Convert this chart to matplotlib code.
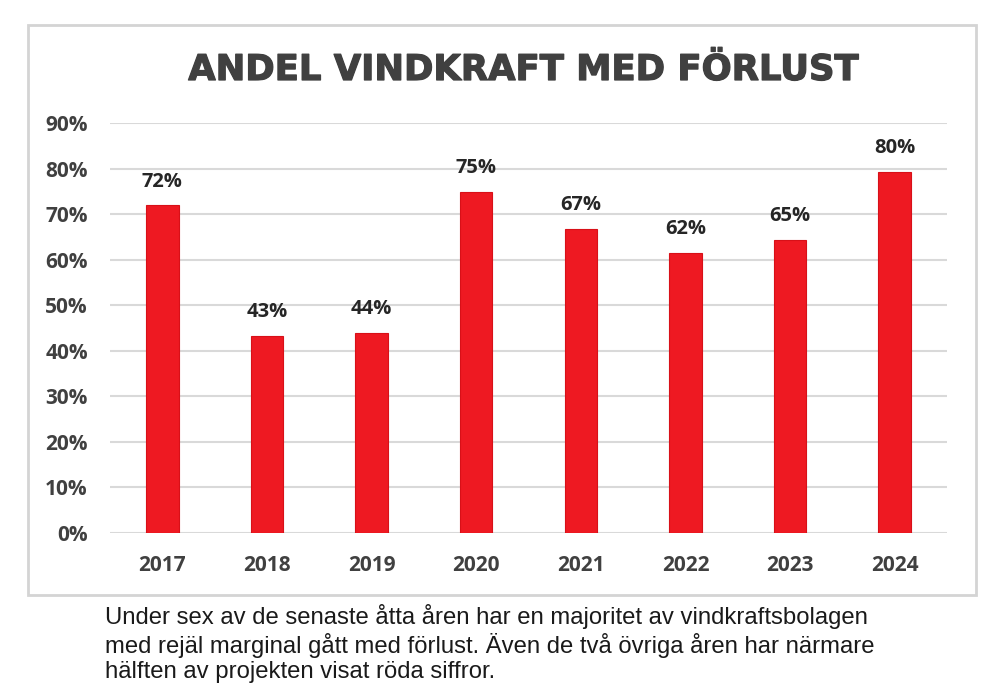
import matplotlib.pyplot as plt
import matplotlib.patheffects as pe
from matplotlib.patches import Rectangle

# data
years = ['2017', '2018', '2019', '2020', '2021', '2022', '2023', '2024']
share = [71.9, 43.2, 43.9, 74.8, 66.7, 61.4, 64.3, 79.2]
share_labels = ['72%', '43%', '44%', '75%', '67%', '62%', '65%', '80%']
yticks = [0, 10, 20, 30, 40, 50, 60, 70, 80, 90]

title = 'ANDEL VINDKRAFT MED FÖRLUST'
caption = ('Under sex av de senaste åtta åren har en majoritet av vindkraftsbolagen\n'
           'med rejäl marginal gått med förlust. Även de två övriga åren har närmare\n'
           'hälften av projekten visat röda siffror.')

text_col = '#404040'
bar_col = '#ee1922'

fig = plt.figure(figsize=(10, 7), dpi=100)
fig.patch.set_facecolor('white')

# grey frame round the chart
fig.patches.append(Rectangle((0.028, 1 - 595 / 700), 0.948, 570 / 700,
                             transform=fig.transFigure, fill=False,
                             edgecolor='#d4d4d4', linewidth=2))

ax = fig.add_axes([0.11, 1 - 533 / 700, 0.837, 410 / 700])
x = range(len(years))
bars = ax.bar(x, share, width=0.31, color=bar_col, edgecolor='#d81018',
              linewidth=0.8, zorder=3)

for xi, h, lab in zip(x, share, share_labels):
    ax.annotate(lab, (xi, h), xytext=(0, 10), textcoords='offset points',
                ha='center', va='bottom', fontsize=14.5, fontweight='bold',
                color='#262626', family='Open Sans')

ax.set_xlim(-0.5, len(years) - 0.5)
ax.set_ylim(0, 90)
ax.set_yticks(yticks)
ax.set_yticklabels([f'{v}%' for v in yticks])
ax.set_xticks(list(x))
ax.set_xticklabels(years)
ax.grid(axis='y', color='#d9d9d9', linewidth=1.5, zorder=0)
ax.set_axisbelow(True)
for s in ax.spines.values():
    s.set_visible(False)
ax.tick_params(axis='both', length=0)
ax.tick_params(axis='y', pad=16, labelsize=15, labelcolor=text_col)
ax.tick_params(axis='x', pad=16, labelsize=15, labelcolor=text_col)
for t in ax.get_xticklabels() + ax.get_yticklabels():
    t.set_family('Open Sans')
    t.set_fontweight('bold')

fig.text(0.523, 1 - 70 / 700, title, ha='center', va='center',
         fontsize=25.5, fontweight='bold', color=text_col, family='DejaVu Sans',
         path_effects=[pe.withStroke(linewidth=0.9, foreground=text_col)])

fig.text(0.105, 1 - 604 / 700, caption, ha='left', va='top',
         fontsize=17.2, color='#1a1a1a', family='Liberation Sans',
         linespacing=1.2)

fig.savefig('out.png', dpi=100)
